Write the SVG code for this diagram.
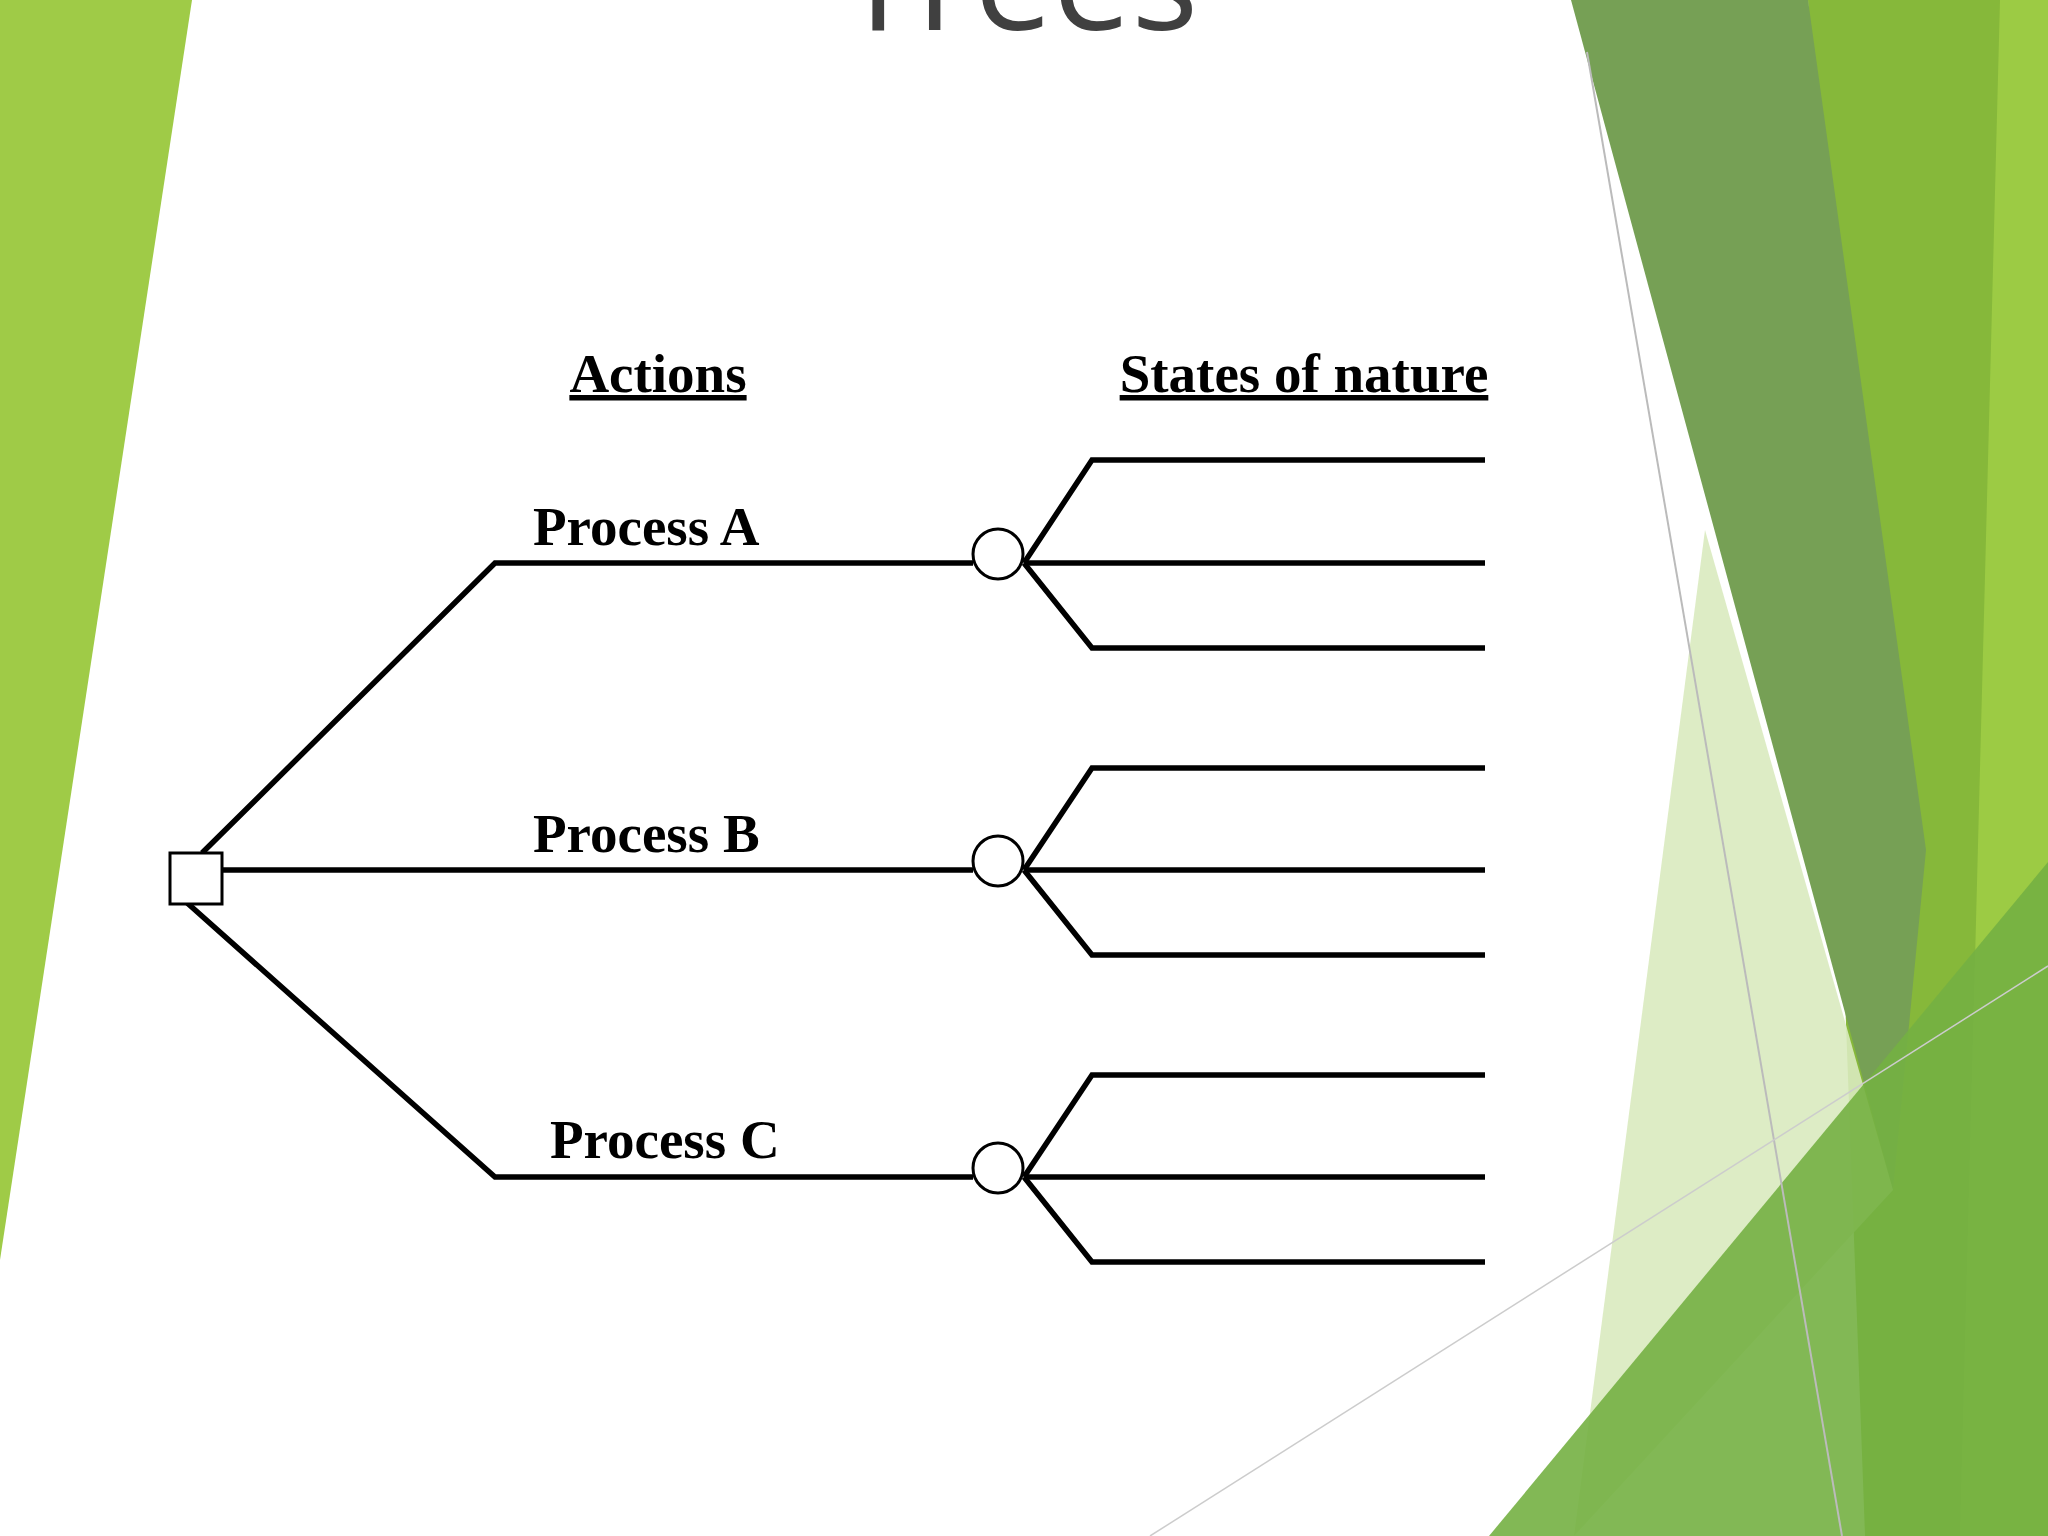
<svg xmlns="http://www.w3.org/2000/svg" width="2048" height="1536" viewBox="0 0 2048 1536">
<style>
.ln{stroke:#000;stroke-width:5.5;fill:none}
.lb{font-family:"Liberation Serif",serif;font-weight:bold;font-size:55px;fill:#000}
.nd{fill:#fff;stroke:#000;stroke-width:3}
</style>
<rect width="2048" height="1536" fill="#fff"/>
<g id="background">
<polygon points="0,0 192,0 0,1260" fill="#9fcb47"/>
<polygon points="1808,0 2048,0 2048,1536 1865,1536" fill="#86b83a"/>
<polygon points="2000,0 2048,0 2048,1536 1960,1536" fill="#9ccb44"/>
<polygon points="1571,0 1808,0 1926,850 1893,1190" fill="#76a055"/>
<polygon points="1705,530 1893,1190 1574,1536" fill="#d9eabf" opacity="0.9"/>
<polygon points="1489,1536 2048,862 2048,1536" fill="#74b043" opacity="0.9"/>
<line x1="1587" y1="52" x2="1842" y2="1536" stroke="#bbb" stroke-width="2"/>
<line x1="1150" y1="1536" x2="2048" y2="966" stroke="#ccc" stroke-width="1.5"/>
<text x="1019" y="30" text-anchor="middle" font-family="Open Sans, sans-serif" font-size="140" fill="#404040">Trees</text>
</g>
<g id="connectors">
<polyline class="ln" points="202,853 495,563 973,563"/>
<polyline class="ln" points="222,870 973,870"/>
<polyline class="ln" points="185,901 495,1177 973,1177"/>
<polyline class="ln" points="1024,563 1092,460 1485,460"/>
<polyline class="ln" points="1024,563 1485,563"/>
<polyline class="ln" points="1024,563 1092,648 1485,648"/>
<polyline class="ln" points="1024,870 1092,768 1485,768"/>
<polyline class="ln" points="1024,870 1485,870"/>
<polyline class="ln" points="1024,870 1092,955 1485,955"/>
<polyline class="ln" points="1024,1177 1092,1075 1485,1075"/>
<polyline class="ln" points="1024,1177 1485,1177"/>
<polyline class="ln" points="1024,1177 1092,1262 1485,1262"/>
</g>
<g id="decision"><rect class="nd" x="170" y="853" width="52" height="51"/></g>
<g id="chanceA"><circle class="nd" cx="998" cy="554" r="25"/></g>
<g id="chanceB"><circle class="nd" cx="998" cy="861" r="25"/></g>
<g id="chanceC"><circle class="nd" cx="998" cy="1168" r="25"/></g>
<g id="labels">
<text class="lb" x="658" y="392" text-anchor="middle" text-decoration="underline">Actions</text>
<text class="lb" x="1304" y="392" text-anchor="middle" text-decoration="underline">States of nature</text>
<text class="lb" x="533" y="545">Process A</text>
<text class="lb" x="533" y="852">Process B</text>
<text class="lb" x="550" y="1158">Process C</text>
</g>
</svg>
